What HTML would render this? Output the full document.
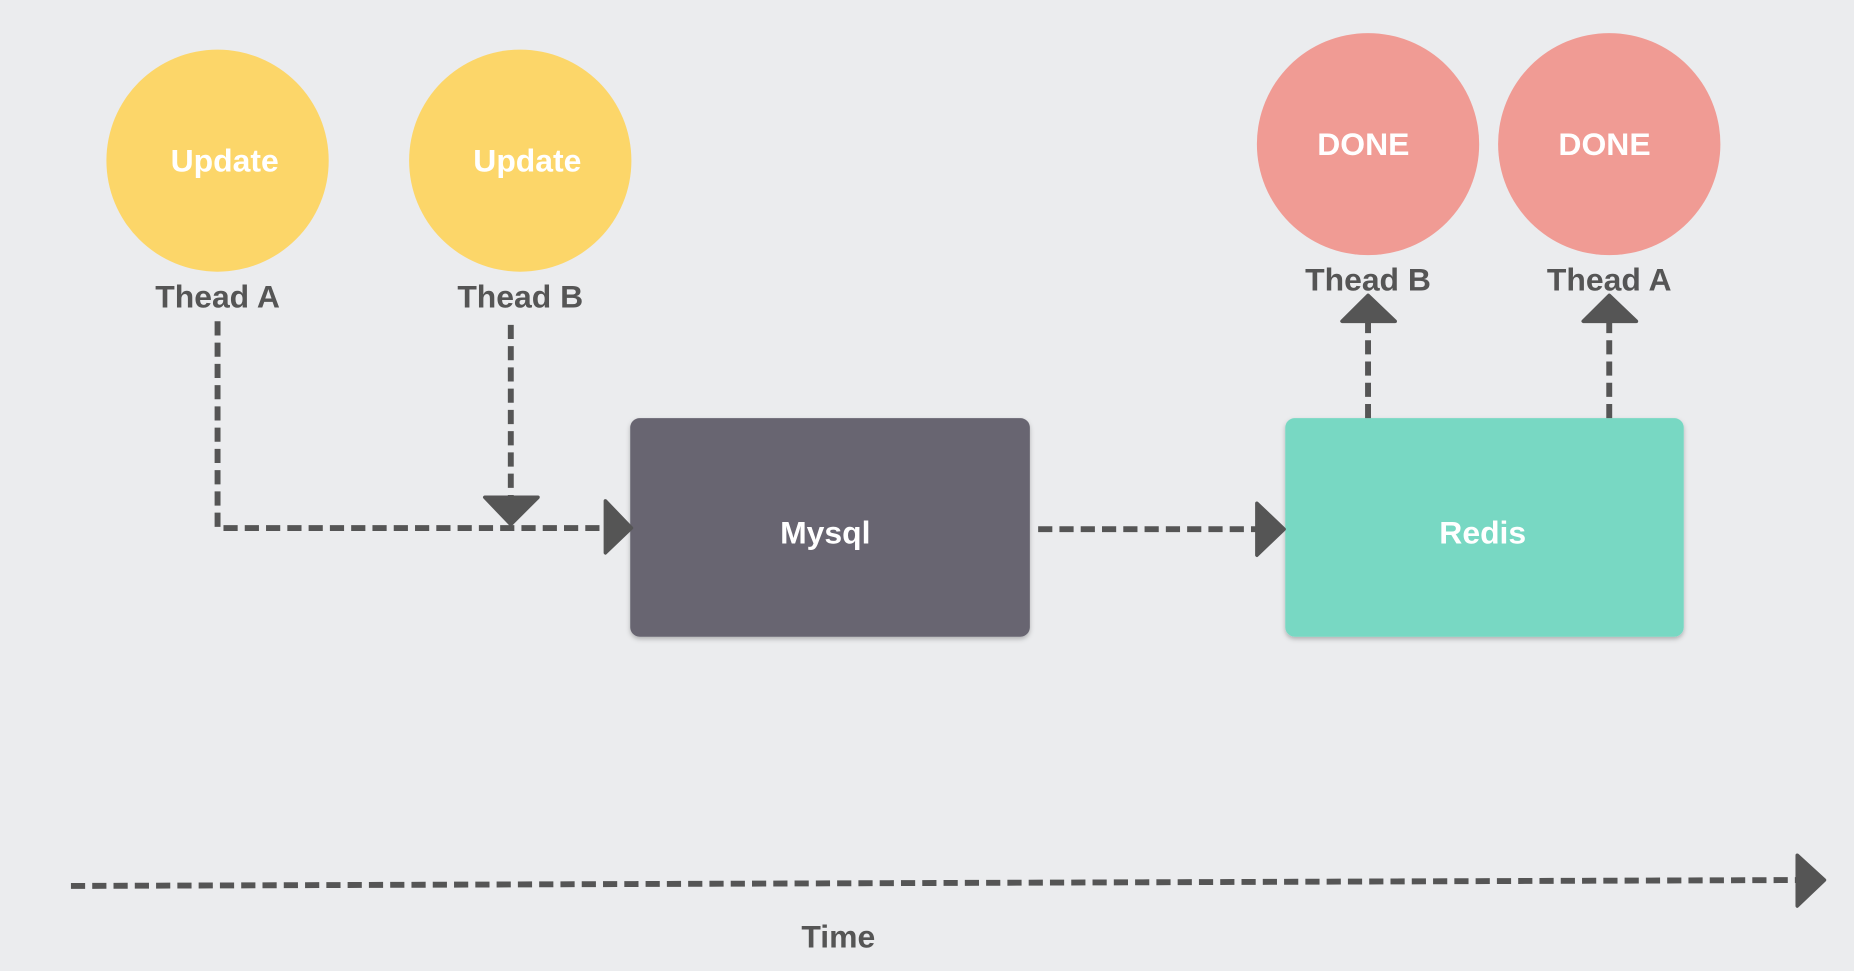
<!DOCTYPE html>
<html><head><meta charset="utf-8"><style>
html,body{margin:0;padding:0;background:#ebecee;}
svg{display:block;}
text{font-family:"Liberation Sans",sans-serif;font-weight:bold;text-anchor:middle;dominant-baseline:middle;}
</style></head><body>
<svg width="1854" height="971" viewBox="0 0 1568 822" preserveAspectRatio="none" xmlns="http://www.w3.org/2000/svg">
<defs>
<filter id="sh" x="-10%" y="-10%" width="120%" height="130%"><feDropShadow dx="0" dy="2" stdDeviation="2" flood-color="#000" flood-opacity="0.25"/></filter>
</defs>
<rect width="1568" height="822" fill="#ebecee"/>
<circle cx="184" cy="136" r="94" fill="#fcd669"/>
<circle cx="440" cy="136" r="94" fill="#fcd669"/>
<circle cx="1157" cy="122" r="94" fill="#f09b94"/>
<circle cx="1361" cy="122" r="94" fill="#f09b94"/>
<g fill="#fff" font-size="27">
<text x="190" y="138">Update</text>
<text x="446" y="138">Update</text>
<text x="1153" y="124">DONE</text>
<text x="1357" y="124">DONE</text>
</g>
<g fill="#555" font-size="27">
<text x="184" y="253">Thead A</text>
<text x="440" y="253">Thead B</text>
<text x="1157" y="239">Thead B</text>
<text x="1361" y="239">Thead A</text>
<text x="709" y="795">Time</text>
</g>
<rect x="533" y="354" width="338" height="185" rx="8" fill="#676571" filter="url(#sh)"/>
<rect x="1087" y="354" width="337" height="185" rx="8" fill="#78d8c3" filter="url(#sh)"/>
<text x="698" y="453" fill="#fff" font-size="27">Mysql</text>
<text x="1254" y="453" fill="#fff" font-size="27">Redis</text>
<g stroke="#555" stroke-width="5" stroke-dasharray="12 6" fill="none">
<polyline points="184,272 184,447 512,447"/>
<line x1="432" y1="275" x2="432" y2="420"/>
<line x1="878" y1="448" x2="1064" y2="448"/>
<line x1="1157" y1="354" x2="1157" y2="272"/>
<line x1="1361" y1="354" x2="1361" y2="272"/>
<line x1="60" y1="750" x2="1520" y2="745"/>
</g>
<g fill="#555" stroke="#555" stroke-width="3" stroke-linejoin="round">
<polygon points="512,424 534,447 512,468"/>
<polygon points="410,421 455,421 432,444"/>
<polygon points="1063,426 1086,448 1063,470"/>
<polygon points="1135,272 1180,272 1157,250"/>
<polygon points="1339,272 1384,272 1361,250"/>
<polygon points="1520,724 1543,745 1520,767"/>
</g>
</svg>
</body></html>
